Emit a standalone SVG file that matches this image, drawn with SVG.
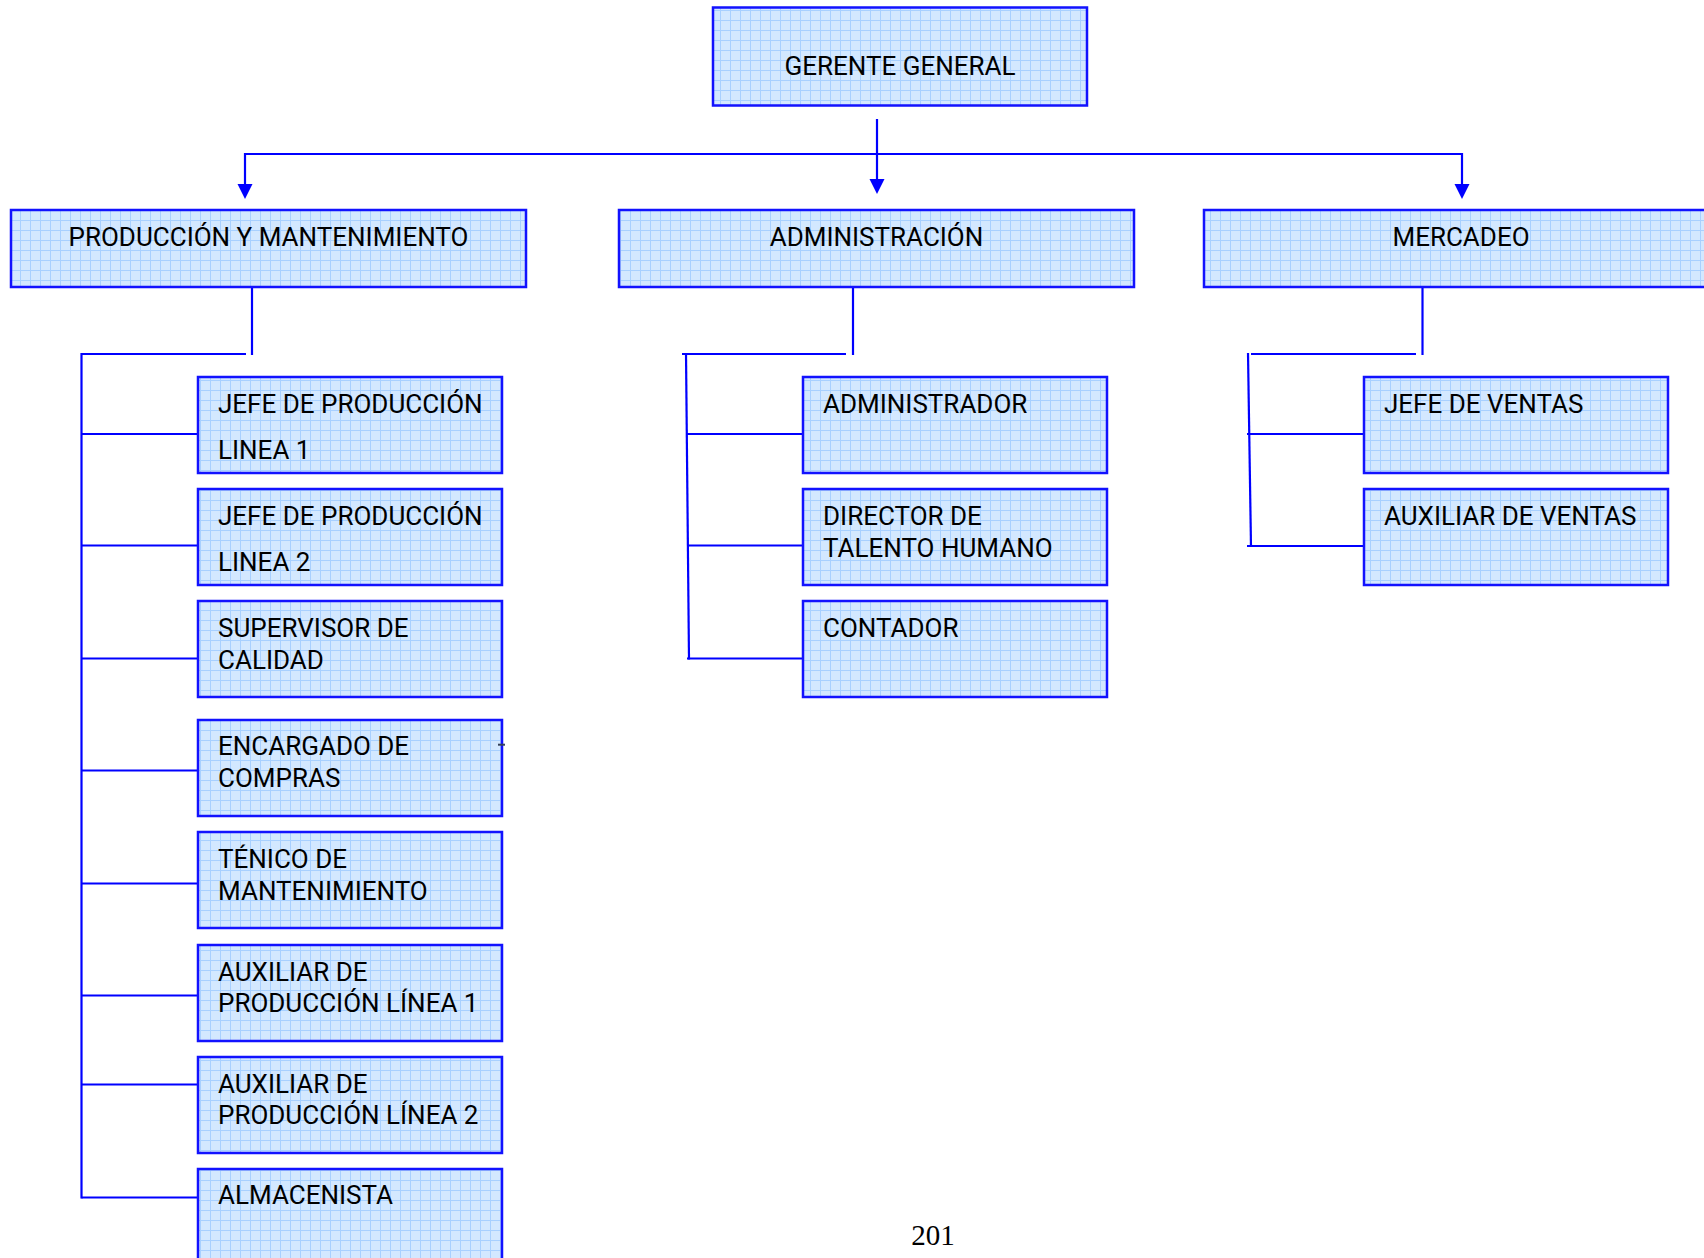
<svg xmlns="http://www.w3.org/2000/svg" width="1704" height="1258" viewBox="0 0 1704 1258">
  <defs>
    <pattern id="grid" width="10" height="10" patternUnits="userSpaceOnUse">
      <rect width="10" height="10" fill="#d3e8ff"/>
      <path d="M0 0.5H10M0.5 0V10" stroke="#a8d0ff" stroke-width="1" fill="none"/>
    </pattern>
    <marker id="arrow" markerUnits="userSpaceOnUse" markerWidth="16" markerHeight="16" refX="0" refY="7.5" orient="auto" viewBox="0 0 16 16">
      <path d="M0,0 L15,7.5 L0,15 z" fill="#0000ff"/>
    </marker>
    <style>
      .box { fill: url(#grid); stroke: #1212ff; stroke-width: 2.5; }
      .lbl { font-family: Roboto, "DejaVu Sans", sans-serif; font-size: 26px; fill: #000; }
      .mid { text-anchor: middle; }
      .con { stroke: #0000ff; stroke-width: 2.2; fill: none; }
      .pg { font-family: "Liberation Serif", serif; font-size: 29px; fill: #000; text-anchor: middle; }
    </style>
  </defs>

  <g id="connectors">
    <line class="con" x1="877" y1="119" x2="877" y2="179" marker-end="url(#arrow)"/>
    <line class="con" x1="245" y1="154" x2="1462" y2="154"/>
    <line class="con" x1="245" y1="153" x2="245" y2="184" marker-end="url(#arrow)"/>
    <line class="con" x1="1462" y1="153" x2="1462" y2="184" marker-end="url(#arrow)"/>

    <!-- Produccion -->
    <line class="con" x1="252" y1="288" x2="252" y2="355"/>
    <line class="con" x1="81.5" y1="354" x2="246" y2="354"/>
    <line class="con" x1="81.5" y1="353" x2="81.5" y2="1198.5"/>
    <line class="con" x1="81.5" y1="434" x2="198" y2="434"/>
    <line class="con" x1="81.5" y1="545.5" x2="198" y2="545.5"/>
    <line class="con" x1="81.5" y1="658.5" x2="198" y2="658.5"/>
    <line class="con" x1="81.5" y1="770.5" x2="198" y2="770.5"/>
    <line class="con" x1="81.5" y1="883.5" x2="198" y2="883.5"/>
    <line class="con" x1="81.5" y1="995.5" x2="198" y2="995.5"/>
    <line class="con" x1="81.5" y1="1084.5" x2="198" y2="1084.5"/>
    <line class="con" x1="81.5" y1="1197.5" x2="198" y2="1197.5"/>

    <!-- Administracion -->
    <line class="con" x1="853" y1="288" x2="853" y2="355"/>
    <line class="con" x1="682" y1="354" x2="846" y2="354"/>
    <line class="con" x1="686" y1="353" x2="689" y2="659.5"/>
    <line class="con" x1="686" y1="434" x2="803" y2="434"/>
    <line class="con" x1="687" y1="545.5" x2="803" y2="545.5"/>
    <line class="con" x1="687" y1="658.5" x2="803" y2="658.5"/>

    <!-- Mercadeo -->
    <line class="con" x1="1422.5" y1="288" x2="1422.5" y2="355"/>
    <line class="con" x1="1251" y1="354" x2="1416" y2="354"/>
    <line class="con" x1="1248" y1="353" x2="1251" y2="547"/>
    <line class="con" x1="1247" y1="434" x2="1364" y2="434"/>
    <line class="con" x1="1247" y1="546" x2="1364" y2="546"/>
  </g>

  <g id="gerente-general">
    <rect class="box" x="713" y="7.5" width="374" height="98"/>
    <text class="lbl mid" x="900" y="74.5">GERENTE GENERAL</text>
  </g>

  <g id="produccion-mantenimiento">
    <rect class="box" x="11" y="210" width="515" height="77"/>
    <text class="lbl mid" x="268.5" y="245.5">PRODUCCIÓN Y MANTENIMIENTO</text>
  </g>
  <g id="administracion">
    <rect class="box" x="619" y="210" width="515" height="77"/>
    <text class="lbl mid" x="876.5" y="245.5">ADMINISTRACIÓN</text>
  </g>
  <g id="mercadeo">
    <rect class="box" x="1204" y="210" width="515" height="77"/>
    <text class="lbl mid" x="1461" y="245.5">MERCADEO</text>
  </g>

  <g id="jefe-produccion-1">
    <rect class="box" x="198" y="377" width="304" height="96"/>
    <text class="lbl" x="218" y="412.5">JEFE DE PRODUCCIÓN</text>
    <text class="lbl" x="218" y="459">LINEA 1</text>
  </g>
  <g id="jefe-produccion-2">
    <rect class="box" x="198" y="489" width="304" height="96"/>
    <text class="lbl" x="218" y="524.5">JEFE DE PRODUCCIÓN</text>
    <text class="lbl" x="218" y="571">LINEA 2</text>
  </g>
  <g id="supervisor-calidad">
    <rect class="box" x="198" y="601" width="304" height="96"/>
    <text class="lbl" x="218" y="637">SUPERVISOR DE</text>
    <text class="lbl" x="218" y="668.5">CALIDAD</text>
  </g>
  <g id="encargado-compras">
    <rect class="box" x="198" y="720" width="304" height="96"/>
    <text class="lbl" x="218" y="755">ENCARGADO DE</text>
    <text class="lbl" x="218" y="787">COMPRAS</text>
    <line x1="498" y1="744.7" x2="505" y2="744.7" stroke="#33415a" stroke-width="2"/>
  </g>
  <g id="tecnico-mantenimiento">
    <rect class="box" x="198" y="832" width="304" height="96"/>
    <text class="lbl" x="218" y="868">TÉNICO DE</text>
    <text class="lbl" x="218" y="900">MANTENIMIENTO</text>
  </g>
  <g id="auxiliar-produccion-1">
    <rect class="box" x="198" y="945" width="304" height="96"/>
    <text class="lbl" x="218" y="980.5">AUXILIAR DE</text>
    <text class="lbl" x="218" y="1012">PRODUCCIÓN LÍNEA 1</text>
  </g>
  <g id="auxiliar-produccion-2">
    <rect class="box" x="198" y="1057" width="304" height="96"/>
    <text class="lbl" x="218" y="1092.5">AUXILIAR DE</text>
    <text class="lbl" x="218" y="1124">PRODUCCIÓN LÍNEA 2</text>
  </g>
  <g id="almacenista">
    <rect class="box" x="198" y="1169" width="304" height="100"/>
    <text class="lbl" x="218" y="1204">ALMACENISTA</text>
  </g>

  <g id="administrador">
    <rect class="box" x="803" y="377" width="304" height="96"/>
    <text class="lbl" x="823" y="412.5">ADMINISTRADOR</text>
  </g>
  <g id="director-talento-humano">
    <rect class="box" x="803" y="489" width="304" height="96"/>
    <text class="lbl" x="823" y="525">DIRECTOR DE</text>
    <text class="lbl" x="823" y="556.5">TALENTO HUMANO</text>
  </g>
  <g id="contador">
    <rect class="box" x="803" y="601" width="304" height="96"/>
    <text class="lbl" x="823" y="637">CONTADOR</text>
  </g>

  <g id="jefe-ventas">
    <rect class="box" x="1364" y="377" width="304" height="96"/>
    <text class="lbl" x="1384" y="412.5">JEFE DE VENTAS</text>
  </g>
  <g id="auxiliar-ventas">
    <rect class="box" x="1364" y="489" width="304" height="96"/>
    <text class="lbl" x="1384" y="524.5">AUXILIAR DE VENTAS</text>
  </g>

  <text class="pg" x="933" y="1245">201</text>
</svg>
